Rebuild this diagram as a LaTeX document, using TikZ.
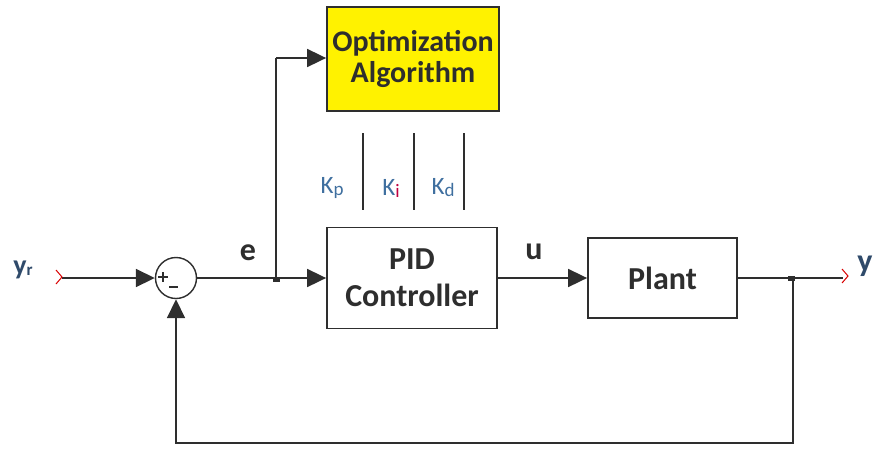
\documentclass[tikz,border=0pt]{standalone}
\usepackage{fontspec}
\setmainfont{Carlito}
\usetikzlibrary{arrows.meta}
\definecolor{ln}{HTML}{2E2E2E}
\definecolor{kblue}{HTML}{3F6F9F}
\definecolor{ylab}{HTML}{2F4A6A}
\definecolor{optyel}{HTML}{FFF200}
\tikzset{
  blk/.style={draw=ln,line width=1.8pt,inner sep=0pt,align=center,text=ln},
  wire/.style={draw=ln,line width=1.8pt},
  arr/.style={wire,-{Triangle[length=19pt,width=18pt]}},
  lab/.style={font=\fontsize{32}{32}\selectfont\bfseries,text=ln},
  klab/.style={font=\fontsize{25}{25}\selectfont,text=kblue},
  chev/.style={draw=red!85!black,line width=1pt},
}
\begin{document}
\begin{tikzpicture}[x=1pt,y=-1pt]
\useasboundingbox (0,0) rectangle (874,448);
% blocks
\node[blk,fill=optyel,minimum width=172pt,minimum height=104pt,font=\fontsize{30}{31}\selectfont\bfseries] (opt) at (413,59) {Optimization\\Algorithm};
\node[blk,fill=white,minimum width=170pt,minimum height=101pt,font=\fontsize{32}{37}\selectfont\bfseries] (pid) at (412,278) {PID\\Controller};
\node[blk,fill=white,minimum width=149pt,minimum height=80pt,font=\fontsize{32}{37}\selectfont\bfseries] (plant) at (662.5,278) {Plant};
\node[draw=ln,line width=1.4pt,circle,minimum size=41pt,inner sep=0pt] (sum) at (176,278) {};
\draw[ln,line width=1.4pt] (158,277) -- (168,277) (163,272) -- (163,282);
\draw[ln,line width=1.4pt] (169,287) -- (178,287);
% coordinates
\coordinate (yrin) at (62,278);
\coordinate (br) at (276,278);
\coordinate (brtop) at (276,58);
\coordinate (yout) at (843,278);
\coordinate (fb) at (793,278);
\coordinate (fbb) at (793,443);
\coordinate (fbl) at (176,443);
% labels
\node[lab,text=ylab,font=\fontsize{28}{28}\selectfont\bfseries,inner sep=0pt] (yr) at (23,270) {y\raisebox{-1pt}{\fontsize{17}{17}\selectfont r}};
\node[lab,text=ylab,font=\fontsize{32}{32}\selectfont\bfseries,inner sep=0pt] (ylabel) at (865,266) {y};
\node[lab,inner sep=0pt] (elab) at (248,253) {e};
\node[lab,inner sep=0pt] (ulab) at (534,252) {u};
\node[klab,inner sep=0pt] (kp) at (332,188) {K\raisebox{-2pt}{\fontsize{19}{19}\selectfont p}};
\node[klab,inner sep=0pt] (ki) at (391,188) {K\raisebox{-2pt}{\fontsize{19}{19}\selectfont \textcolor{purple}{i}}};
\node[klab,inner sep=0pt] (kd) at (443,188) {K\raisebox{-2pt}{\fontsize{19}{19}\selectfont d}};
% gain lines
\draw[wire] (363,133) -- (363,210);
\draw[wire] (414,133) -- (414,210);
\draw[wire] (464,133) -- (464,210);
% connections
\draw[arr] (yrin) -- (sum.west);
\draw[wire] (sum.east) -- (br);
\draw[arr] (br) -- (pid.west);
\draw[wire] (br) -- (brtop);
\draw[arr] (brtop) -- (opt.west |- brtop);
\draw[arr] (pid.east) -- (plant.west);
\draw[wire] (plant.east) -- (yout);
\draw[arr] (fb) -- (fbb) -- (fbl) -- (sum.south);
\fill[ln] (273,277) rectangle (280,282);
\fill[ln] (788,276) rectangle (795,281);
% chevrons
\draw[chev] (56,270) -- (62,277) -- (56,284);
\draw[chev] (842,269) -- (848,276) -- (842,283);
\end{tikzpicture}
\end{document}
